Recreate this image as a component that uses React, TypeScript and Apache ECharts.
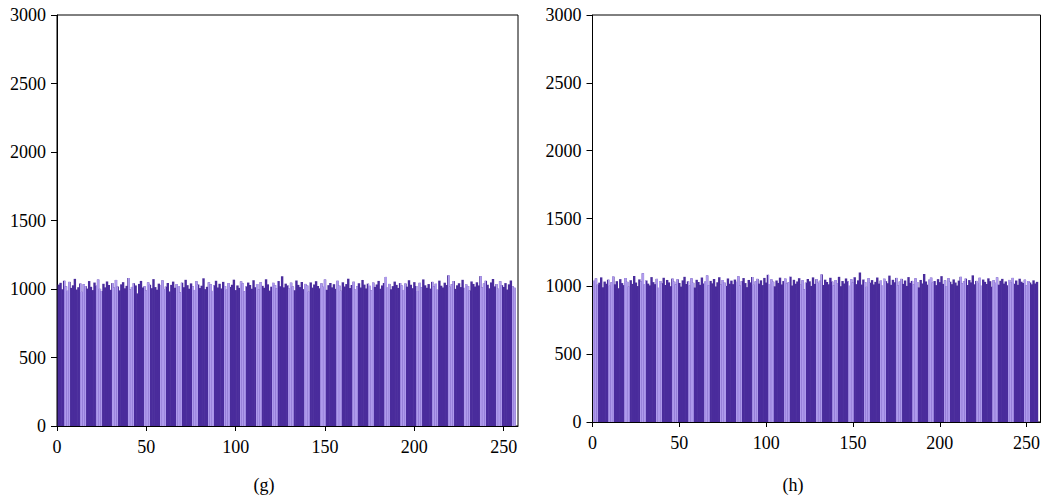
import React, { useEffect, useRef } from "react";
import * as echarts from "echarts";

// Histogram (g): pixel counts per grey level
const countsG: number[] = [
  1032, 1045, 998, 1061, 1019, 987, 1052, 1008, 1027, 1074, 996, 1013, 1040, 979, 1035, 1021,
  1003, 1058, 1016, 992, 1047, 1024, 1069, 1001, 985, 1038, 1012, 1055, 1029, 994, 1043, 1010,
  1066, 1018, 990, 1034, 1050, 1005, 1023, 1081, 997, 1015, 1042, 1026, 968, 1037, 1059, 1011,
  1020, 989, 1048, 1031, 1006, 1072, 1014, 995, 1039, 1025, 1063, 1000, 1017, 1044, 982, 1030,
  1054, 1009, 1036, 1022, 976, 1046, 1013, 1067, 1028, 1002, 1041, 1019, 993, 1057, 1033, 1007,
  1024, 1078, 999, 1016, 1049, 1035, 986, 1027, 1060, 1011, 1038, 1004, 1052, 1021, 995, 1043,
  1015, 1031, 1068, 992, 1026, 1008, 1055, 1040, 983, 1019, 1047, 1029, 1002, 1064, 1013, 1036,
  997, 1050, 1023, 1009, 1071, 1034, 988, 1017, 1045, 1028, 1006, 1058, 1020, 1093, 1012, 1039,
  1026, 1003, 1046, 1018, 991, 1062, 1030, 1014, 1051, 999, 1037, 1025, 980, 1048, 1010, 1033,
  1057, 1022, 1005, 1041, 1016, 1069, 994, 1028, 1044, 1012, 1035, 1001, 1060, 1024, 987, 1049,
  1018, 1036, 1075, 1007, 1029, 1053, 996, 1020, 1042, 1011, 1066, 1032, 1004, 1039, 1023, 990,
  1047, 1015, 1033, 1059, 1002, 1026, 1044, 1088, 1010, 1037, 998, 1021, 1054, 1030, 1008, 1043,
  1025, 993, 1040, 1017, 1064, 1031, 1006, 1050, 1022, 985, 1045, 1013, 1070, 1027, 1009, 1036,
  1003, 1052, 1019, 1038, 995, 1061, 1024, 1011, 1046, 1029, 1100, 1016, 1035, 1058, 1001, 1027,
  1042, 1014, 1067, 1008, 1033, 1021, 989, 1055, 1037, 1018, 1049, 1026, 1094, 1012, 1040, 1060,
  1031, 1005, 1048, 1073, 1019, 1036, 1002, 1057, 1028, 1015, 1043, 996, 1034, 1062, 1020, 1009,
];

// Histogram (h)
const countsH: number[] = [
  1041, 1058, 1012, 1027, 1066, 993, 1035, 1019, 1049, 1004, 1030, 1072, 1015, 1038, 986, 1053,
  1024, 1009, 1061, 1033, 997, 1045, 1018, 1076, 1028, 1002, 1051, 1036, 1096, 1013, 1043, 1020,
  1007, 1068, 1031, 1016, 1055, 989, 1039, 1023, 1063, 1010, 1047, 1029, 1001, 1057, 1034, 1014,
  1052, 1025, 998, 1044, 1070, 1017, 1037, 1006, 1059, 1026, 991, 1048, 1032, 1011, 1065, 1021,
  1035, 1080, 1008, 1040, 1022, 1054, 999, 1030, 1067, 1013, 1046, 1027, 1003, 1058, 1019, 1042,
  1016, 1050, 1033, 1074, 1005, 1038, 1061, 1024, 994, 1047, 1029, 1069, 1011, 1036, 1055, 1020,
  1044, 1009, 1062, 1028, 1085, 1017, 1051, 1034, 1000, 1043, 1025, 1064, 1014, 1039, 1057, 1022,
  1030, 1071, 1006, 1048, 1019, 1036, 1060, 1012, 1045, 978, 1027, 1054, 1037, 1003, 1066, 1018,
  1053, 1026, 1041, 1088, 1010, 1049, 1032, 1015, 1063, 1035, 1007, 1046, 1024, 1070, 1001, 1039,
  1021, 1058, 1037, 1004, 1052, 1029, 1067, 1016, 1044, 1102, 1013, 1050, 1031, 996, 1060, 1027,
  1046, 1014, 1033, 1065, 1020, 1042, 1005, 1056, 1038, 1023, 1079, 1011, 1048, 1030, 1062, 1008,
  1035, 1055, 1018, 1043, 1003, 1068, 1026, 1040, 1014, 1059, 1032, 992, 1047, 1021, 1091, 1036,
  1012, 1049, 1064, 1027, 1039, 1009, 1053, 1031, 1075, 1018, 1044, 1002, 1060, 1034, 1016, 1051,
  1028, 1006, 1042, 1070, 1023, 1037, 1057, 1010, 1046, 1029, 1081, 1015, 1040, 1025, 1063, 1004,
  1050, 1033, 1017, 1059, 1038, 997, 1045, 1026, 1066, 1012, 1041, 1055, 1020, 1036, 1008, 1047,
  1031, 1062, 1019, 1043, 1011, 1056, 1034, 1024, 1049, 1007, 1039, 1028, 1015, 1044, 1021, 1033,
];

// grey-level bins (1..256)
const bins: number[] = countsG.map((_, i) => i + 1);

const xTicks: number[] = [0, 50, 100, 150, 200, 250];
const yTicks: number[] = [0, 500, 1000, 1500, 2000, 2500, 3000];
const panelLabels: string[] = ["(g)", "(h)"];

const FONT = "'Liberation Serif', 'Times New Roman', serif";
const DARK = "#4a2c9c";
const LIGHT = "#ae9aec";

export default function App() {
  const ref = useRef<HTMLDivElement>(null);

  useEffect(() => {
    if (!ref.current) return;
    const chart = echarts.init(ref.current, null, { renderer: "svg" });
    const plain = (v: number) => String(v);

    const mkX = (gi: number) => ({
      gridIndex: gi,
      type: "value",
      min: 0,
      max: 258,
      interval: 50,
      axisLine: { show: true, lineStyle: { color: "#000", width: 1 } },
      axisTick: { show: true, length: 5, customValues: xTicks, lineStyle: { color: "#000" } },
      axisLabel: {
        customValues: xTicks,
        formatter: plain,
        color: "#000",
        fontFamily: FONT,
        fontSize: 18,
        margin: 12,
      },
      splitLine: { show: false },
    });
    const mkY = (gi: number) => ({
      gridIndex: gi,
      type: "value",
      min: 0,
      max: 3000,
      interval: 500,
      axisLine: { show: true, lineStyle: { color: "#000", width: 1 } },
      axisTick: { show: true, length: 6, customValues: yTicks, lineStyle: { color: "#000" } },
      axisLabel: {
        customValues: yTicks,
        formatter: plain,
        color: "#000",
        fontFamily: FONT,
        fontSize: 18,
        margin: 11,
      },
      splitLine: { show: false },
    });
    const mkSeries = (gi: number, counts: number[]) => ({
      type: "bar",
      xAxisIndex: gi,
      yAxisIndex: gi,
      data: counts.map((v, i) => [bins[i], v]),
      barWidth: 2.4,
      silent: true,
      itemStyle: {
        color: DARK,
        decal: {
          symbol: "rect",
          symbolSize: 1,
          dashArrayX: [6, 10],
          dashArrayY: [10, 0],
          color: LIGHT,
          rotation: 0,
        },
      },
    });

    chart.setOption({
      animation: false,
      backgroundColor: "#fff",
      grid: [
        { left: 57, top: 15, width: 461, height: 411, show: true, borderColor: "#000", borderWidth: 1, backgroundColor: "transparent" },
        { left: 592.5, top: 15, width: 448, height: 407, show: true, borderColor: "#000", borderWidth: 1, backgroundColor: "transparent" },
      ],
      xAxis: [mkX(0), mkX(1)],
      yAxis: [mkY(0), mkY(1)],
      series: [mkSeries(0, countsG), mkSeries(1, countsH)],
      graphic: [
        {
          type: "text",
          x: 264,
          y: 485,
          style: { text: panelLabels[0], fill: "#000", font: `18px ${FONT}`, textAlign: "center", textVerticalAlign: "middle" },
        },
        {
          type: "text",
          x: 793,
          y: 485,
          style: { text: panelLabels[1], fill: "#000", font: `18px ${FONT}`, textAlign: "center", textVerticalAlign: "middle" },
        },
      ],
    });

    return () => chart.dispose();
  }, []);

  return (
    <div
      ref={ref}
      style={{ position: "fixed", left: 0, top: 0, width: 1055, height: 498, background: "#fff" }}
    />
  );
}
